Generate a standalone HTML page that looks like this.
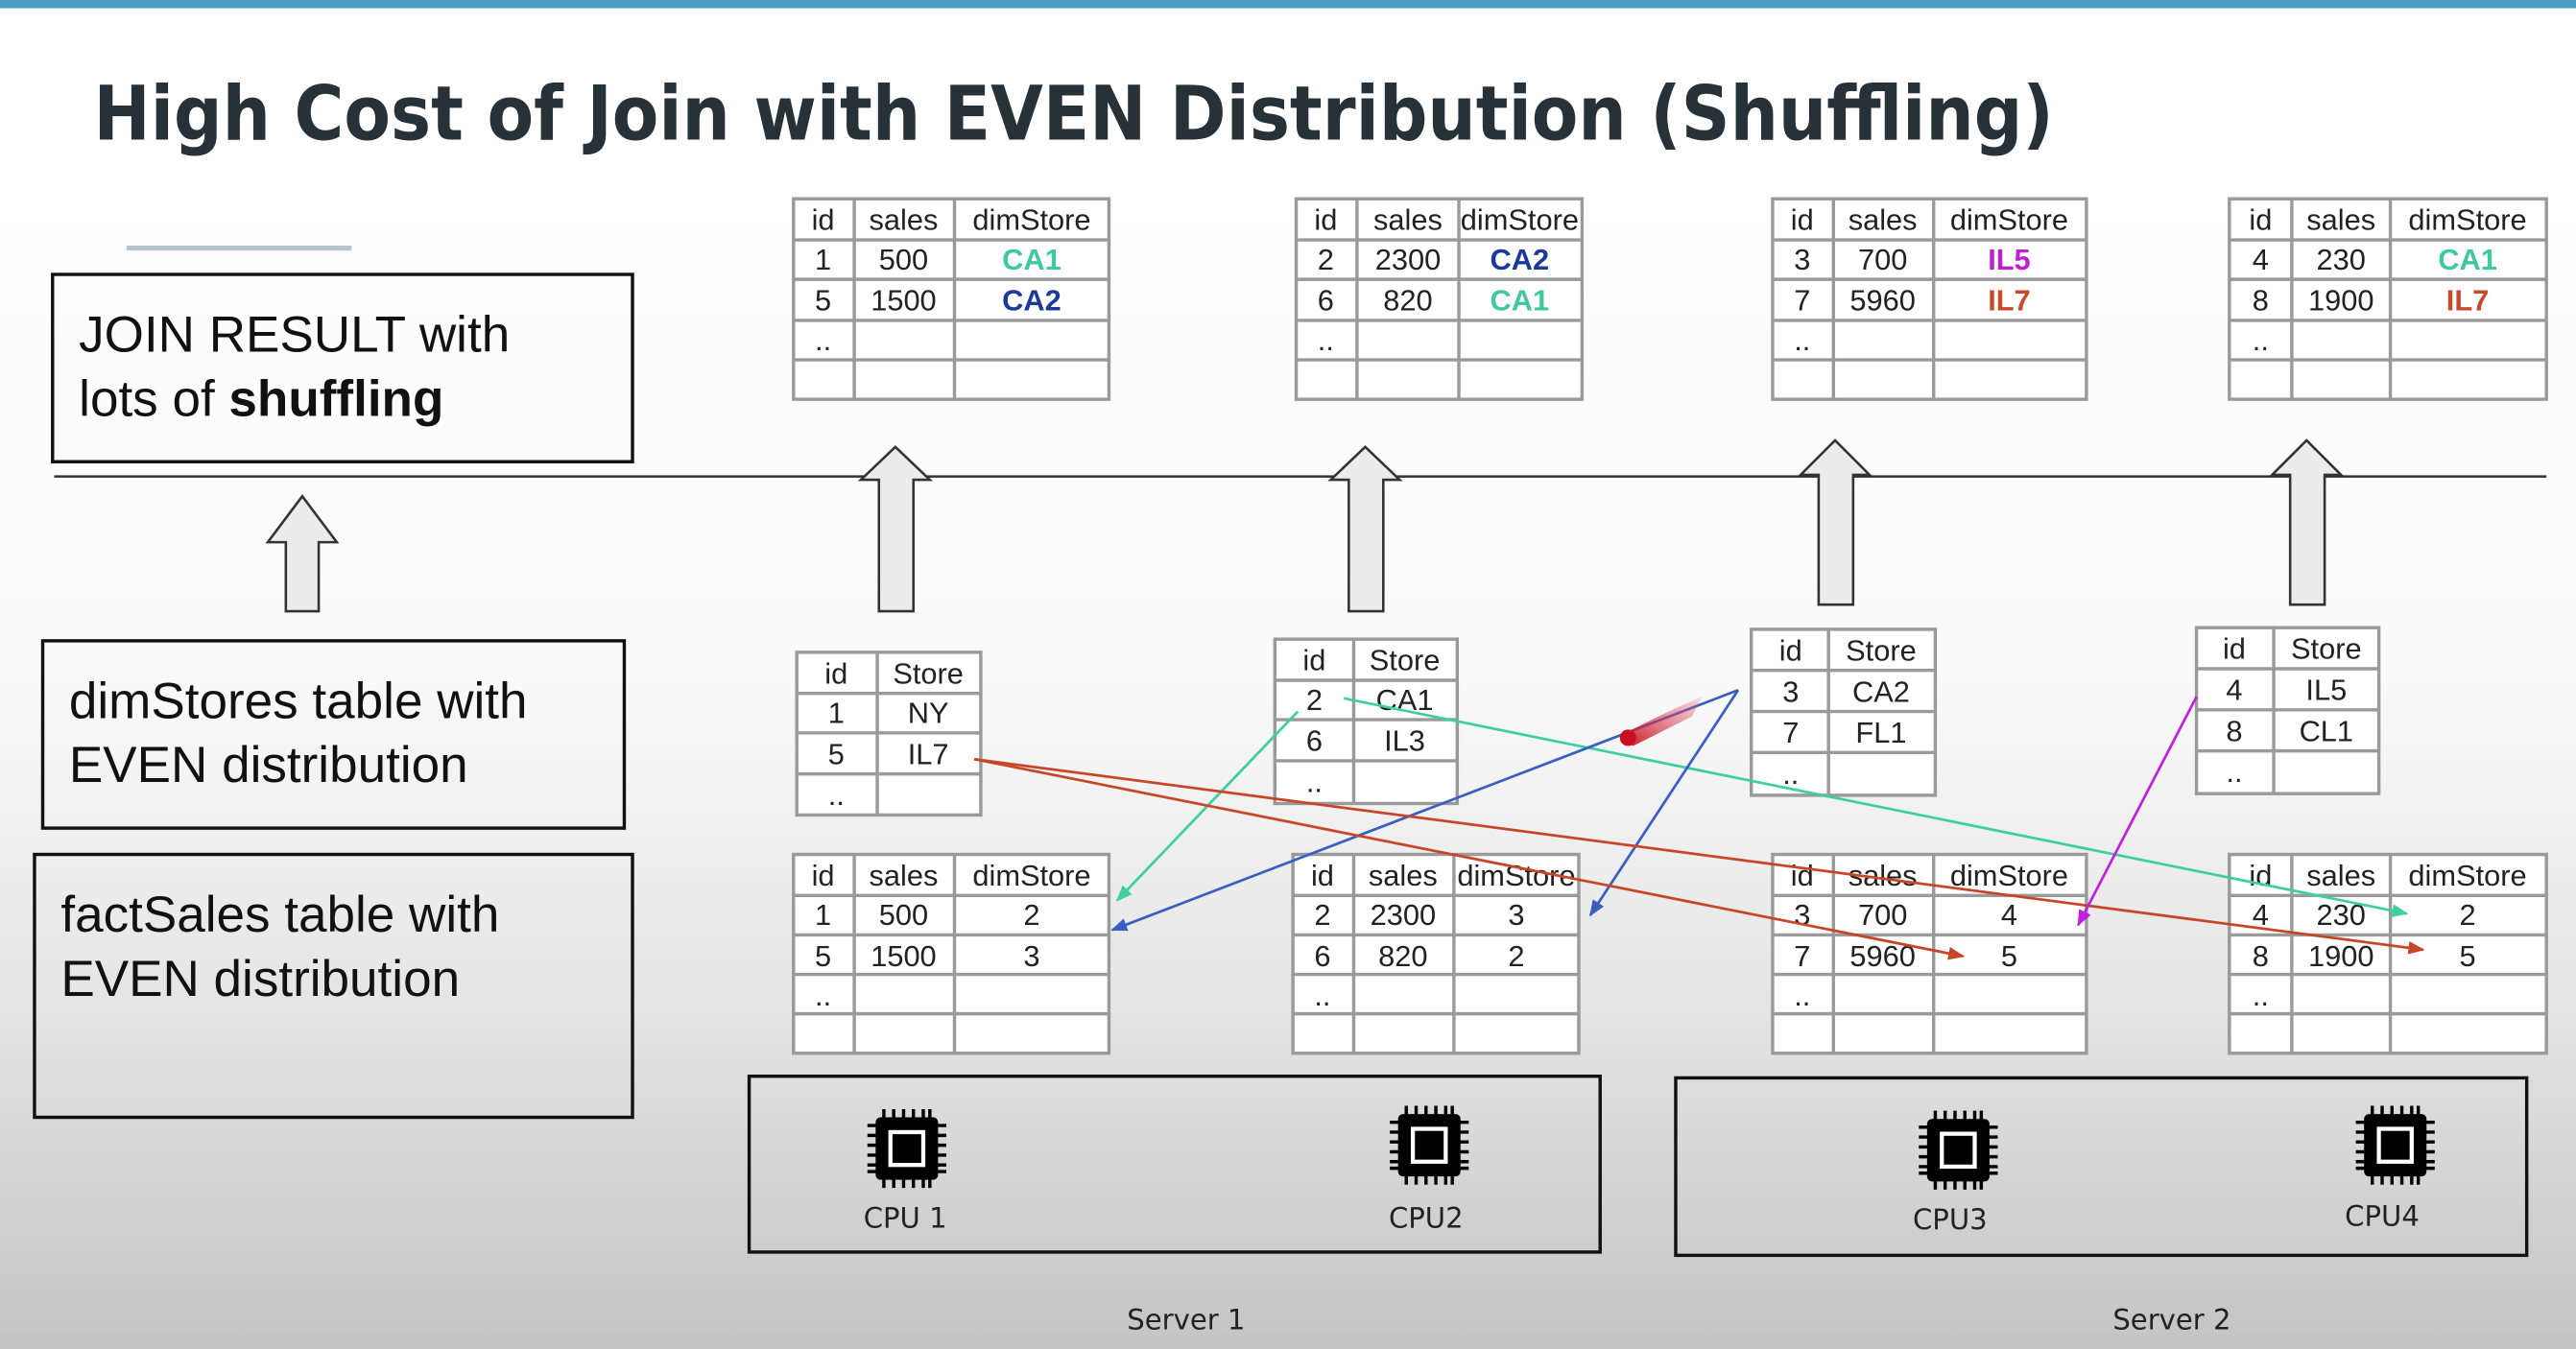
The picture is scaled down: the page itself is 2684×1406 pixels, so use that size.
<!DOCTYPE html>
<html><head><meta charset="utf-8"><style>
html,body{margin:0;padding:0;}
body{width:2684px;height:1406px;overflow:hidden;}
svg{display:block}
text{font-family:"Liberation Sans",Arial,sans-serif;}
.t{font-size:18px;fill:#222;text-anchor:middle}
.ca1{fill:#40c8a0;font-weight:bold}
.ca2{fill:#1a3a9a;font-weight:bold}
.il5{fill:#c020d0;font-weight:bold}
.il7{fill:#c84a2a;font-weight:bold}
.g{fill:#fff;stroke:#9a9a9a;stroke-width:2}
.l{stroke:#9a9a9a;stroke-width:2}
.box{fill:none;stroke:#111;stroke-width:2}
.big{font-size:31px;fill:#111}
.cpu{font-family:"DejaVu Sans",sans-serif;font-size:17px;fill:#222;text-anchor:middle}
</style></head><body>
<svg width="2684" height="1406" viewBox="0 0 1568 821" preserveAspectRatio="none" xmlns="http://www.w3.org/2000/svg">
<defs>
<linearGradient id="bg" x1="0" y1="0" x2="0" y2="1">
<stop offset="0" stop-color="#ffffff"/><stop offset="0.5" stop-color="#fafafa"/><stop offset="0.75" stop-color="#e4e4e4"/><stop offset="1" stop-color="#c4c4c4"/>
</linearGradient>
<marker id="mt" markerWidth="10" markerHeight="10" refX="9" refY="5" orient="auto" markerUnits="userSpaceOnUse"><path d="M0,1 L10,5 L0,9 z" fill="#3fcf9f"/></marker>
<marker id="mb" markerWidth="10" markerHeight="10" refX="9" refY="5" orient="auto" markerUnits="userSpaceOnUse"><path d="M0,1 L10,5 L0,9 z" fill="#3a5fc0"/></marker>
<marker id="mr" markerWidth="10" markerHeight="10" refX="9" refY="5" orient="auto" markerUnits="userSpaceOnUse"><path d="M0,1 L10,5 L0,9 z" fill="#c8452a"/></marker>
<marker id="mm" markerWidth="10" markerHeight="10" refX="9" refY="5" orient="auto" markerUnits="userSpaceOnUse"><path d="M0,1 L10,5 L0,9 z" fill="#c020e0"/></marker>
<linearGradient id="sm" x1="0" y1="1" x2="1" y2="0"><stop offset="0" stop-color="#c81020"/><stop offset="1" stop-color="#e06070" stop-opacity="0.2"/></linearGradient>
<g id="chip">
<g stroke="#000" stroke-width="2">
<path d="M-14,-24v6M-8,-24v6M-2,-24v6M4,-24v6M10,-24v6M14,-24v6"/>
<path d="M-14,18v6M-8,18v6M-2,18v6M4,18v6M10,18v6M14,18v6"/>
<path d="M-24,-14h6M-24,-8h6M-24,-2h6M-24,4h6M-24,10h6M-24,14h6"/>
<path d="M18,-14h6M18,-8h6M18,-2h6M18,4h6M18,10h6M18,14h6"/>
</g>
<rect x="-19" y="-19" width="38" height="38" rx="3" fill="#000"/>
<rect x="-10" y="-10" width="20" height="20" fill="none" stroke="#fff" stroke-width="2.5"/>
<rect x="-5" y="-5" width="10" height="10" fill="#000"/>
</g>
</defs>
<rect width="1568" height="821" fill="url(#bg)"/>
<rect width="1568" height="5" fill="#4a9cc2"/>
<text x="57" y="85" font-size="46" font-weight="bold" fill="#263238" textLength="1193" lengthAdjust="spacingAndGlyphs" style="font-family:'DejaVu Sans','Liberation Sans',sans-serif">High Cost of Join with EVEN Distribution (Shuffling)</text>

<line x1="77" y1="151" x2="214" y2="151" stroke="#b8c4cc" stroke-width="3"/>
<rect class="box" x="32" y="167" width="353" height="114"/>
<text class="big" x="48" y="214">JOIN RESULT  with</text>
<text class="big" x="48" y="253">lots of <tspan font-weight="bold">shuffling</tspan></text>
<line x1="33" y1="290" x2="1550" y2="290" stroke="#333" stroke-width="1.5"/>
<path d="M184,302 L205,330 L194,330 L194,372 L174,372 L174,330 L163,330 z" fill="#ececec" stroke="#333" stroke-width="1.5"/>
<rect class="box" x="26" y="390" width="354" height="114"/>
<text class="big" x="42" y="437">dimStores table with</text>
<text class="big" x="42" y="476">EVEN distribution</text>
<rect class="box" x="21" y="520" width="364" height="160"/>
<text class="big" x="37" y="567">factSales table with</text>
<text class="big" x="37" y="606">EVEN distribution</text>

<g fill="#ececec" stroke="#333" stroke-width="1.5">
<path d="M545,272 L566,292 L556,292 L556,372 L535,372 L535,292 L524,292 z"/>
<path d="M831,272 L852,292 L842,292 L842,372 L821,372 L821,292 L810,292 z"/>
<path d="M1117,268 L1138,289 L1128,289 L1128,368 L1107,368 L1107,289 L1096,289 z"/>
<path d="M1404,268 L1425,289 L1415,289 L1415,368 L1394,368 L1394,289 L1383,289 z"/>
</g>

<g>
<rect class="g" x="483" y="121" width="192" height="122"/>
<path class="l" d="M483,146H675M483,170H675M483,195H675M483,219H675M520,121V243M581,121V243"/>
<text class="t" x="501" y="140">id</text><text class="t" x="550" y="140">sales</text><text class="t" x="628" y="140">dimStore</text>
<text class="t" x="501" y="164">1</text><text class="t" x="550" y="164">500</text><text class="t ca1" x="628" y="164">CA1</text>
<text class="t" x="501" y="189">5</text><text class="t" x="550" y="189">1500</text><text class="t ca2" x="628" y="189">CA2</text>
<text class="t" x="501" y="213">..</text>

<rect class="g" x="789" y="121" width="174" height="122"/>
<path class="l" d="M789,146H963M789,170H963M789,195H963M789,219H963M826,121V243M888,121V243"/>
<text class="t" x="807" y="140">id</text><text class="t" x="857" y="140">sales</text><text class="t" x="925" y="140">dimStore</text>
<text class="t" x="807" y="164">2</text><text class="t" x="857" y="164">2300</text><text class="t ca2" x="925" y="164">CA2</text>
<text class="t" x="807" y="189">6</text><text class="t" x="857" y="189">820</text><text class="t ca1" x="925" y="189">CA1</text>
<text class="t" x="807" y="213">..</text>

<rect class="g" x="1079" y="121" width="191" height="122"/>
<path class="l" d="M1079,146H1270M1079,170H1270M1079,195H1270M1079,219H1270M1116,121V243M1177,121V243"/>
<text class="t" x="1097" y="140">id</text><text class="t" x="1146" y="140">sales</text><text class="t" x="1223" y="140">dimStore</text>
<text class="t" x="1097" y="164">3</text><text class="t" x="1146" y="164">700</text><text class="t il5" x="1223" y="164">IL5</text>
<text class="t" x="1097" y="189">7</text><text class="t" x="1146" y="189">5960</text><text class="t il7" x="1223" y="189">IL7</text>
<text class="t" x="1097" y="213">..</text>

<rect class="g" x="1357" y="121" width="193" height="122"/>
<path class="l" d="M1357,146H1550M1357,170H1550M1357,195H1550M1357,219H1550M1395,121V243M1455,121V243"/>
<text class="t" x="1376" y="140">id</text><text class="t" x="1425" y="140">sales</text><text class="t" x="1502" y="140">dimStore</text>
<text class="t" x="1376" y="164">4</text><text class="t" x="1425" y="164">230</text><text class="t ca1" x="1502" y="164">CA1</text>
<text class="t" x="1376" y="189">8</text><text class="t" x="1425" y="189">1900</text><text class="t il7" x="1502" y="189">IL7</text>
<text class="t" x="1376" y="213">..</text>
</g>

<g>
<rect class="g" x="485" y="397" width="112" height="99"/>
<path class="l" d="M485,422H597M485,446H597M485,471H597M534,397V496"/>
<text class="t" x="509" y="416">id</text><text class="t" x="565" y="416">Store</text>
<text class="t" x="509" y="440">1</text><text class="t" x="565" y="440">NY</text>
<text class="t" x="509" y="465">5</text><text class="t" x="565" y="465">IL7</text>
<text class="t" x="509" y="490">..</text>

<rect class="g" x="776" y="389" width="111" height="100"/>
<path class="l" d="M776,414H887M776,438H887M776,463H887M824,389V489"/>
<text class="t" x="800" y="408">id</text><text class="t" x="855" y="408">Store</text>
<text class="t" x="800" y="432">2</text><text class="t" x="855" y="432">CA1</text>
<text class="t" x="800" y="457">6</text><text class="t" x="855" y="457">IL3</text>
<text class="t" x="800" y="482">..</text>

<rect class="g" x="1066" y="383" width="112" height="101"/>
<path class="l" d="M1066,408H1178M1066,433H1178M1066,458H1178M1113,383V484"/>
<text class="t" x="1090" y="402">id</text><text class="t" x="1145" y="402">Store</text>
<text class="t" x="1090" y="427">3</text><text class="t" x="1145" y="427">CA2</text>
<text class="t" x="1090" y="452">7</text><text class="t" x="1145" y="452">FL1</text>
<text class="t" x="1090" y="477">..</text>

<rect class="g" x="1337" y="382" width="111" height="101"/>
<path class="l" d="M1337,407H1448M1337,432H1448M1337,457H1448M1384,382V483"/>
<text class="t" x="1360" y="401">id</text><text class="t" x="1416" y="401">Store</text>
<text class="t" x="1360" y="426">4</text><text class="t" x="1416" y="426">IL5</text>
<text class="t" x="1360" y="451">8</text><text class="t" x="1416" y="451">CL1</text>
<text class="t" x="1360" y="476">..</text>
</g>

<g>
<rect class="g" x="483" y="520" width="192" height="121"/>
<path class="l" d="M483,545H675M483,569H675M483,593H675M483,617H675M520,520V641M581,520V641"/>
<text class="t" x="501" y="539">id</text><text class="t" x="550" y="539">sales</text><text class="t" x="628" y="539">dimStore</text>
<text class="t" x="501" y="563">1</text><text class="t" x="550" y="563">500</text><text class="t" x="628" y="563">2</text>
<text class="t" x="501" y="588">5</text><text class="t" x="550" y="588">1500</text><text class="t" x="628" y="588">3</text>
<text class="t" x="501" y="612">..</text>

<rect class="g" x="787" y="520" width="174" height="121"/>
<path class="l" d="M787,545H961M787,569H961M787,593H961M787,617H961M824,520V641M885,520V641"/>
<text class="t" x="805" y="539">id</text><text class="t" x="854" y="539">sales</text><text class="t" x="923" y="539">dimStore</text>
<text class="t" x="805" y="563">2</text><text class="t" x="854" y="563">2300</text><text class="t" x="923" y="563">3</text>
<text class="t" x="805" y="588">6</text><text class="t" x="854" y="588">820</text><text class="t" x="923" y="588">2</text>
<text class="t" x="805" y="612">..</text>

<rect class="g" x="1079" y="520" width="191" height="121"/>
<path class="l" d="M1079,545H1270M1079,569H1270M1079,593H1270M1079,617H1270M1116,520V641M1177,520V641"/>
<text class="t" x="1097" y="539">id</text><text class="t" x="1146" y="539">sales</text><text class="t" x="1223" y="539">dimStore</text>
<text class="t" x="1097" y="563">3</text><text class="t" x="1146" y="563">700</text><text class="t" x="1223" y="563">4</text>
<text class="t" x="1097" y="588">7</text><text class="t" x="1146" y="588">5960</text><text class="t" x="1223" y="588">5</text>
<text class="t" x="1097" y="612">..</text>

<rect class="g" x="1357" y="520" width="193" height="121"/>
<path class="l" d="M1357,545H1550M1357,569H1550M1357,593H1550M1357,617H1550M1395,520V641M1455,520V641"/>
<text class="t" x="1376" y="539">id</text><text class="t" x="1425" y="539">sales</text><text class="t" x="1502" y="539">dimStore</text>
<text class="t" x="1376" y="563">4</text><text class="t" x="1425" y="563">230</text><text class="t" x="1502" y="563">2</text>
<text class="t" x="1376" y="588">8</text><text class="t" x="1425" y="588">1900</text><text class="t" x="1502" y="588">5</text>
<text class="t" x="1376" y="612">..</text>
</g>

<g fill="none" stroke-width="1.6">
<line x1="818" y1="425" x2="1465" y2="556" stroke="#3fcf9f" marker-end="url(#mt)"/>
<line x1="790" y1="433" x2="680" y2="548" stroke="#3fcf9f" marker-end="url(#mt)"/>
<line x1="1058" y1="420" x2="677" y2="566" stroke="#3a5fc0" marker-end="url(#mb)"/>
<line x1="1058" y1="420" x2="968" y2="557" stroke="#3a5fc0" marker-end="url(#mb)"/>
<line x1="593" y1="462" x2="1195" y2="582" stroke="#c8452a" marker-end="url(#mr)"/>
<line x1="593" y1="462" x2="1475" y2="578" stroke="#c8452a" marker-end="url(#mr)"/>
<line x1="1337" y1="424" x2="1265" y2="563" stroke="#c020e0" marker-end="url(#mm)"/>
</g>
<path d="M986,448 Q1010,435 1036,424 L1030,436 Q1010,446 994,454 Z" fill="url(#sm)"/>
<circle cx="991" cy="449" r="5" fill="#c81020"/>

<rect class="box" x="456" y="655" width="518" height="107"/>
<rect class="box" x="1020" y="656" width="518" height="108"/>
<use href="#chip" x="552" y="699"/>
<use href="#chip" x="870" y="697"/>
<use href="#chip" x="1192" y="700"/>
<use href="#chip" x="1458" y="697"/>
<text class="cpu" x="551" y="747">CPU 1</text>
<text class="cpu" x="868" y="747">CPU2</text>
<text class="cpu" x="1187" y="748">CPU3</text>
<text class="cpu" x="1450" y="746">CPU4</text>
<text class="cpu" x="722" y="809">Server 1</text>
<text class="cpu" x="1322" y="809">Server 2</text>
</svg>
</body></html>
